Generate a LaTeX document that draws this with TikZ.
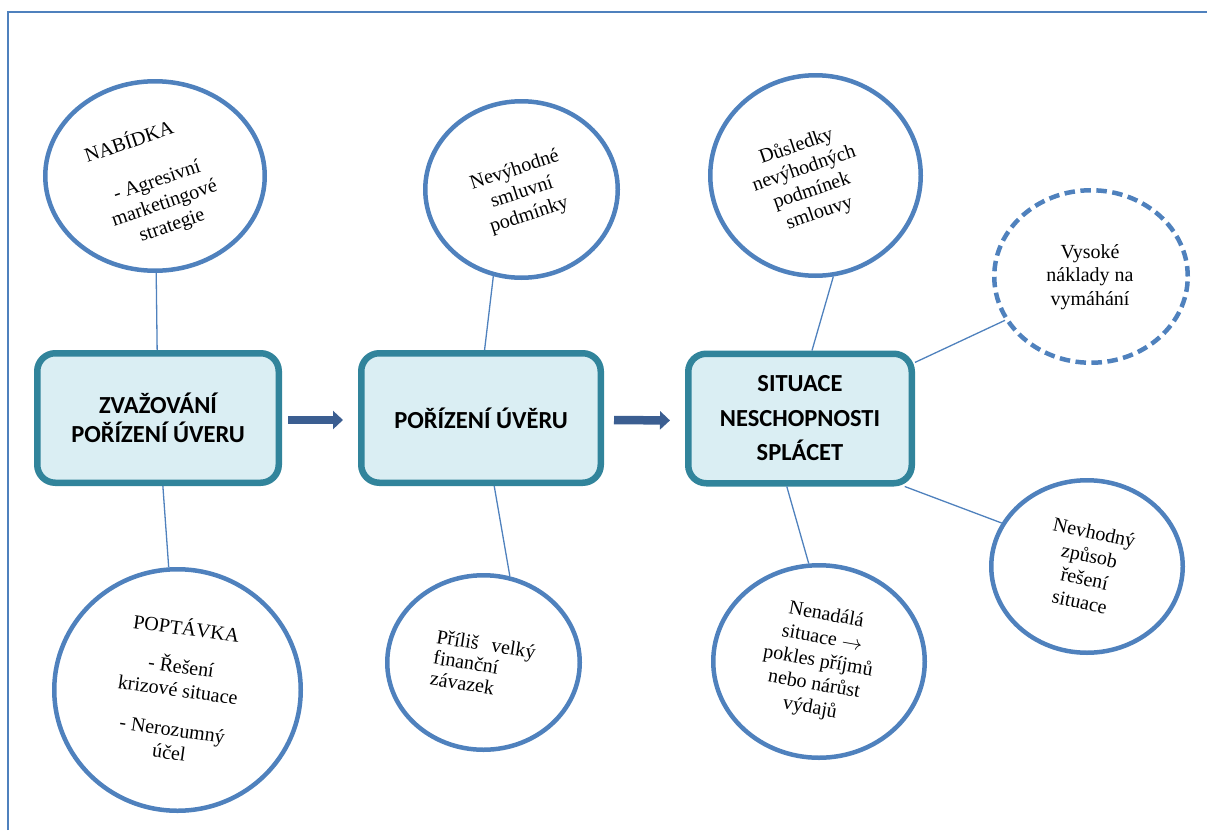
\documentclass[tikz,border=0pt]{standalone}
\usepackage{fontspec}
\setmainfont{Liberation Serif}
\setsansfont{Carlito}
\usetikzlibrary{arrows.meta,shapes.geometric}
\usepackage{xcolor}
\definecolor{edge}{HTML}{4F81BD}
\definecolor{boxline}{HTML}{31849B}
\definecolor{boxfill}{HTML}{DAEEF3}
\definecolor{flowc}{HTML}{3B5E91}

\begin{document}
\begin{tikzpicture}[
  x=1pt, y=-1pt,
  stage/.style={draw=boxline, line width=6.5pt, fill=boxfill, rounded corners=18pt, minimum height=129.5pt, align=center, inner sep=0pt, font=\sffamily\bfseries\fontsize{24.5}{29.5}\selectfont},
  bubble/.style={ellipse, draw=edge, line width=4.5pt, inner sep=0pt},
  dbubble/.style={bubble, dash pattern=on 10.5pt off 5.5pt},
  txt/.style={align=center, inner sep=0pt, font=\fontsize{20}{23.5}\selectfont},
  link/.style={draw=edge, line width=1.3pt},
  flow/.style={-{Triangle[width=18pt,length=10pt]}, draw=flowc, line width=8.5pt},
  frame/.style={draw=edge, line width=1.2pt},
]

\useasboundingbox (0,0) rectangle (1207,830);
\draw[frame] (8,830) -- (8,12) -- (1207,12);

\node[stage, minimum width=241.5pt] (zvaz) at (158,418) {ZVAŽOVÁNÍ\\POŘÍZENÍ ÚVERU};
\node[stage, minimum width=239.5pt] (poriz) at (481,418) {POŘÍZENÍ ÚVĚRU};
\node[stage, minimum width=223.5pt, font=\sffamily\bfseries\fontsize{24.5}{34.5}\selectfont] (situace) at (800,418.5) {SITUACE\\NESCHOPNOSTI\\SPLÁCET};

\node[bubble, minimum width=219.5pt, minimum height=189.5pt] (nabidka) at (155,176) {};
\node[bubble, minimum width=246.5pt, minimum height=241.5pt] (poptavka) at (177.5,690) {};
\node[bubble, minimum width=192.5pt, minimum height=176.5pt] (smluv) at (521.5,189.5) {};
\node[bubble, minimum width=192.5pt, minimum height=174.5pt] (zavaz) at (483.5,662.5) {};
\node[bubble, minimum width=210.5pt, minimum height=200.5pt] (dusled) at (815.5,175.5) {};
\node[dbubble, minimum width=193.5pt, minimum height=172.5pt] (vysoke) at (1091,276.5) {};
\node[bubble, minimum width=191.5pt, minimum height=172.5pt] (nevhod) at (1087,566.5) {};
\node[bubble, minimum width=211.5pt, minimum height=192.5pt] (nenad) at (819,661.5) {};

\node[txt, rotate=18.7] (nabidka-t) at (157,181) {NABÍDKA\hspace*{28pt}\\[21.5pt]- Agresivní\\marketingové\\strategie};
\node[txt, rotate=-8] (poptavka-t) at (178,689) {POPTÁVKA\\[14.5pt]- Řešení\\krizové situace\\[16.5pt]- Nerozumný\\účel};
\node[txt, rotate=18] (smluv-t) at (522,193) {Nevýhodné\\smluvní\\podmínky};
\node[txt, rotate=-9, align=left, font=\fontsize{20}{21}\selectfont] (zavaz-t) at (483,665) {Příliš\hspace{13pt}velký\\finanční\\závazek};
\node[txt, rotate=19] (dusled-t) at (808,180) {Důsledky\\nevýhodných\\podmínek\\smlouvy};
\node[txt] (vysoke-t) at (1090,277) {Vysoké\\náklady na\\vymáhání};
\node[txt, rotate=-12] (nevhod-t) at (1087,567) {Nevhodný\\způsob\\řešení\\situace};
\node[txt, rotate=-10] (nenad-t) at (818,662) {Nenadálá\\situace $\rightarrow$\\pokles příjmů\\nebo nárůst\\výdajů};

\draw[link] (nabidka) -- (zvaz);
\draw[link] (zvaz) -- (poptavka);
\draw[link] (smluv.252) -- (poriz.87);
\draw[link] (poriz.-79) -- (zavaz.73);
\draw[link] (dusled.-80) -- (situace.80);
\draw[link] (vysoke.207) -- (situace.26);
\draw[link] (nevhod.153) -- (situace.-33);
\draw[link] (nenad.96) -- (situace.-101);

\draw[flow, shorten <=6pt, shorten >=15pt] ([yshift=-2pt]zvaz.east) -- ([yshift=-2pt]poriz.west);
\draw[flow, shorten <=10pt, shorten >=15pt] ([yshift=-2pt]poriz.east) -- ([yshift=-2pt]situace.west);

\end{tikzpicture}
\end{document}
